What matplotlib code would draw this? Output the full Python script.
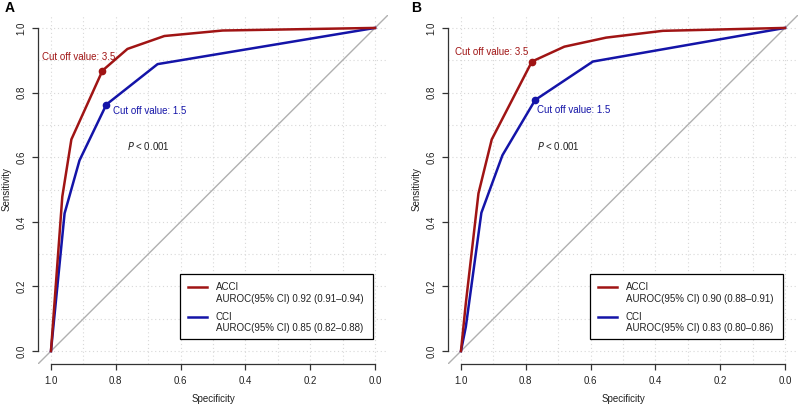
import matplotlib
matplotlib.use("Agg")
import matplotlib.pyplot as plt
from matplotlib.patches import Rectangle
from matplotlib.lines import Line2D
import numpy as np

plt.rcParams['font.family'] = ['Liberation Sans', 'DejaVu Sans']

# ---------------- data ----------------
panel_labels = ["A", "B"]
series_names = ["ACCI", "CCI"]

# Panel A
specA_acci = [1.0, 0.965, 0.937, 0.841, 0.764, 0.650, 0.470, 0.0]
sensA_acci = [0.0, 0.478, 0.655, 0.868, 0.935, 0.975, 0.992, 1.0]
specA_cci = [1.0, 0.958, 0.912, 0.829, 0.671, 0.0]
sensA_cci = [0.0, 0.426, 0.590, 0.763, 0.888, 1.0]
cutA_acci = (0.841, 0.868)
cutA_cci = (0.829, 0.763)
aurocA = ["AUROC(95% CI) 0.92 (0.91\u20130.94)", "AUROC(95% CI) 0.85 (0.82\u20130.88)"]

# Panel B
specB_acci = [1.0, 0.985, 0.946, 0.905, 0.781, 0.681, 0.552, 0.377, 0.0]
sensB_acci = [0.0, 0.148, 0.488, 0.655, 0.896, 0.942, 0.970, 0.991, 1.0]
specB_cci = [1.0, 0.985, 0.937, 0.872, 0.771, 0.593, 0.0]
sensB_cci = [0.0, 0.075, 0.428, 0.606, 0.777, 0.896, 1.0]
cutB_acci = (0.781, 0.896)
cutB_cci = (0.771, 0.777)
aurocB = ["AUROC(95% CI) 0.90 (0.88\u20130.91)", "AUROC(95% CI) 0.83 (0.80\u20130.86)"]

cut_labels = ["Cut off value: 3.5", "Cut off value: 1.5"]
p_text = "$\\it{P}$ < 0.001"

tick_vals = [0.0, 0.2, 0.4, 0.6, 0.8, 1.0]
tick_labels = ["0.0", "0.2", "0.4", "0.6", "0.8", "1.0"]

RED = "#A01414"
BLUE = "#1414A8"
FS = 7

fig = plt.figure(figsize=(7.99, 4.05), dpi=100)

panels = [
    dict(left=38, spec_acci=specA_acci, sens_acci=sensA_acci, spec_cci=specA_cci, sens_cci=sensA_cci,
         cut_acci=cutA_acci, cut_cci=cutA_cci, auroc=aurocA,
         red_txt=(1.029, 0.909), blue_txt=(0.810, 0.743), plab_x=10),
    dict(left=448, spec_acci=specB_acci, sens_acci=sensB_acci, spec_cci=specB_cci, sens_cci=sensB_cci,
         cut_acci=cutB_acci, cut_cci=cutB_cci, auroc=aurocB,
         red_txt=(1.0195, 0.925), blue_txt=(0.764, 0.746), plab_x=416),
]

W, H = 799, 405
for i, p in enumerate(panels):
    ax = fig.add_axes([p['left'] / W, (H - 364) / H, 350 / W, 349 / H])
    ax.set_xlim(1.04, -0.04)
    ax.set_ylim(-0.04, 1.04)

    # grid
    ax.set_xticks(tick_vals)
    ax.set_yticks(tick_vals)
    ax.set_xticks(np.arange(0.1, 1.0, 0.2), minor=True)
    ax.set_yticks(np.arange(0.1, 1.0, 0.2), minor=True)
    ax.grid(True, which='both', color='#d8d8d8', linestyle=(0, (1, 2.5)), linewidth=0.8)
    ax.tick_params(which='minor', length=0)
    ax.set_axisbelow(True)

    ax.set_xticklabels(tick_labels)
    ax.set_yticklabels(tick_labels, rotation=90, va='center')
    ax.tick_params(which='major', direction='out', length=4.5, width=0.9, color='#333333',
                   labelsize=FS, labelcolor='#222222', pad=4)

    for s in ['top', 'right']:
        ax.spines[s].set_visible(False)
    for s in ['left', 'bottom']:
        ax.spines[s].set_color('#333333')
        ax.spines[s].set_linewidth(0.9)
    ax.spines['left'].set_bounds(0, 1)
    ax.spines['bottom'].set_bounds(0, 1)

    # diagonal
    ax.axline((1, 0), (0, 1), color='#b0b0b0', linewidth=1.0, zorder=2)

    ax.plot(p['spec_cci'], p['sens_cci'], color=BLUE, linewidth=1.8, zorder=3, solid_joinstyle='round')
    ax.plot(p['spec_acci'], p['sens_acci'], color=RED, linewidth=1.8, zorder=4, solid_joinstyle='round')
    ax.plot([p['cut_acci'][0]], [p['cut_acci'][1]], 'o', color=RED, markersize=4.5, zorder=5)
    ax.plot([p['cut_cci'][0]], [p['cut_cci'][1]], 'o', color=BLUE, markersize=4.5, zorder=5)

    ax.text(p['red_txt'][0], p['red_txt'][1], cut_labels[0], color=RED, fontsize=FS,
            ha='left', va='center')
    ax.text(p['blue_txt'][0], p['blue_txt'][1], cut_labels[1], color=BLUE, fontsize=FS,
            ha='left', va='center')
    ax.text(0.70, 0.635, p_text, color='#222222', fontsize=FS, ha='center', va='center')

    # legend box
    ax.add_patch(Rectangle((0.005, 0.036), 0.596, 0.202, facecolor='white',
                           edgecolor='black', linewidth=0.9, zorder=6))
    ax.add_line(Line2D([0.576, 0.517], [0.197, 0.197], color=RED, linewidth=1.8, zorder=7))
    ax.add_line(Line2D([0.576, 0.517], [0.106, 0.106], color=BLUE, linewidth=1.8, zorder=7))
    ax.text(0.492, 0.197, series_names[0], fontsize=FS, color='#222222', ha='left', va='center', zorder=7)
    ax.text(0.492, 0.160, p['auroc'][0], fontsize=FS, color='#222222', ha='left', va='center', zorder=7)
    ax.text(0.492, 0.106, series_names[1], fontsize=FS, color='#222222', ha='left', va='center', zorder=7)
    ax.text(0.492, 0.070, p['auroc'][1], fontsize=FS, color='#222222', ha='left', va='center', zorder=7)

    ax.set_xlabel("Specificity", fontsize=FS, color='#222222', va='center')
    ax.set_ylabel("Sensitivity", fontsize=FS, color='#222222', va='center')
    ax.xaxis.set_label_coords(0.501, -0.100)
    ax.yaxis.set_label_coords(-0.090, 0.5)

    fig.text(p['plab_x'] / W, 1 - 8 / H, panel_labels[i], fontsize=10, fontweight='bold',
             ha='center', va='center')

fig.savefig("out.png", dpi=100)
